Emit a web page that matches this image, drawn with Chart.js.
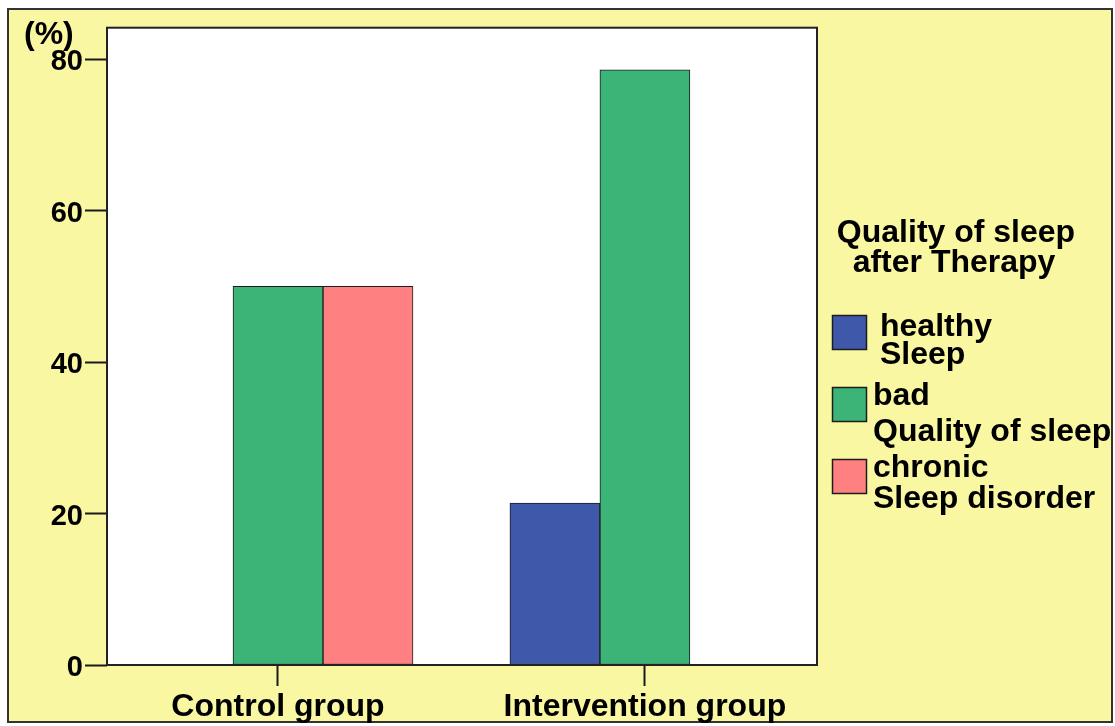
<!DOCTYPE html>
<html>
<head>
<meta charset="utf-8">
<script src="https://cdn.jsdelivr.net/npm/chart.js@4.4.1/dist/chart.umd.min.js"></script>
<style>
  html, body { margin: 0; padding: 0; background: #fff; }
  canvas { display: block; }
</style>
</head>
<body>
<canvas id="c" width="1115" height="726"></canvas>
<script>
// Groups on the x axis
const groups = ['Control group', 'Intervention group'];
// Sleep quality after therapy, percent of each group
const healthySleep = [0, 21.4];
const badQuality = [50, 78.6];
const chronicDisorder = [50, 0];
// Series names and the way the legend breaks them into lines
const seriesNames = ['healthy Sleep', 'bad Quality of sleep', 'chronic Sleep disorder'];
const legendLines = [['healthy', 'Sleep'], ['bad', 'Quality of sleep'], ['chronic', 'Sleep disorder']];
const legendTitle = ['Quality of sleep', 'after Therapy'];
const yTicks = [0, 20, 40, 60, 80];
const yUnit = '(%)';

const seriesValues = [healthySleep, badQuality, chronicDisorder];
const seriesColors = ['#3F58AA', '#3CB478', '#FF8080'];
const FONT = '"Liberation Sans", Arial, Helvetica, sans-serif';

const datasets = seriesValues.map((vals, i) => ({
  label: seriesNames[i],
  data: vals.map((v, j) => ({ x: j, y: v })),
  backgroundColor: seriesColors[i],
  borderColor: '#1c1c1c',
  borderWidth: 1,
  borderSkipped: false,
  barThickness: 90
}));

// Background panel, plot frame, unit label and the legend at the right
const decor = {
  id: 'decor',
  beforeDraw(chart) {
    const ctx = chart.ctx;
    const a = chart.chartArea;
    ctx.save();
    ctx.fillStyle = '#ffffff';
    ctx.fillRect(0, 0, chart.width, chart.height);
    ctx.fillStyle = '#F9F7A1';
    ctx.fillRect(8, 9, 1104, 713);
    ctx.strokeStyle = '#333333';
    ctx.lineWidth = 2;
    ctx.strokeRect(8, 9, 1104, 713);
    ctx.fillStyle = '#ffffff';
    ctx.fillRect(a.left, a.top, a.right - a.left, a.bottom - a.top);
    ctx.restore();
  },
  afterDraw(chart) {
    const ctx = chart.ctx;
    const a = chart.chartArea;
    ctx.save();
    // plot frame
    ctx.strokeStyle = '#222222';
    ctx.lineWidth = 2;
    ctx.strokeRect(a.left, a.top, a.right - a.left, a.bottom - a.top);

    // unit label above the y axis
    ctx.fillStyle = '#000';
    ctx.font = 'bold 32px ' + FONT;
    ctx.textAlign = 'left';
    ctx.textBaseline = 'alphabetic';
    ctx.fillText(yUnit, 24, 44);

    // legend title
    ctx.textAlign = 'center';
    ctx.fillText(legendTitle[0], 956, 242);
    ctx.fillText(legendTitle[1], 954, 272);

    // legend entries
    const textX = [880, 873, 873];
    const baselines = [[336, 364], [405, 441], [477, 508]];
    ctx.textAlign = 'left';
    chart.data.datasets.forEach((ds, i) => {
      const by = 315 + 72 * i;
      ctx.fillStyle = ds.backgroundColor;
      ctx.fillRect(832, by, 35, 35);
      ctx.strokeStyle = '#1c1c1c';
      ctx.lineWidth = 1.5;
      ctx.strokeRect(832.5, by + 0.5, 34, 34);
      ctx.fillStyle = '#000';
      legendLines[i].forEach((line, k) => ctx.fillText(line, textX[i], baselines[i][k]));
    });
    ctx.restore();
  }
};

new Chart(document.getElementById('c'), {
  type: 'bar',
  data: { datasets },
  options: {
    responsive: false,
    animation: false,
    devicePixelRatio: 1,
    layout: { padding: { left: 0, top: 27.7, right: 298, bottom: 0 } },
    plugins: { legend: { display: false }, tooltip: { enabled: false } },
    scales: {
      x: {
        type: 'linear',
        min: -0.466,
        max: 1.469,
        offset: false,
        afterBuildTicks: s => { s.ticks = groups.map((_, i) => ({ value: i })); },
        afterFit: s => { s.height = 61; },
        border: { display: false },
        grid: { offset: false, drawOnChartArea: false, drawTicks: true, tickLength: 21, tickColor: '#1a1a1a', tickWidth: 2 },
        ticks: {
          padding: 2, color: '#000', font: { family: FONT, size: 32, weight: 'bold' },
          maxRotation: 0, autoSkip: false,
          callback: v => groups[v] ?? ''
        }
      },
      y: {
        min: 0,
        max: 84.17,
        afterBuildTicks: s => { s.ticks = yTicks.map(v => ({ value: v })); },
        afterFit: s => { s.width = 107; },
        border: { display: false },
        grid: { drawOnChartArea: false, drawTicks: true, tickLength: 22, tickColor: '#1a1a1a', tickWidth: 2 },
        ticks: { padding: 2, labelOffset: 3, color: '#000', font: { family: FONT, size: 29, weight: 'bold' } }
      }
    }
  },
  plugins: [decor]
});
</script>
</body>
</html>
